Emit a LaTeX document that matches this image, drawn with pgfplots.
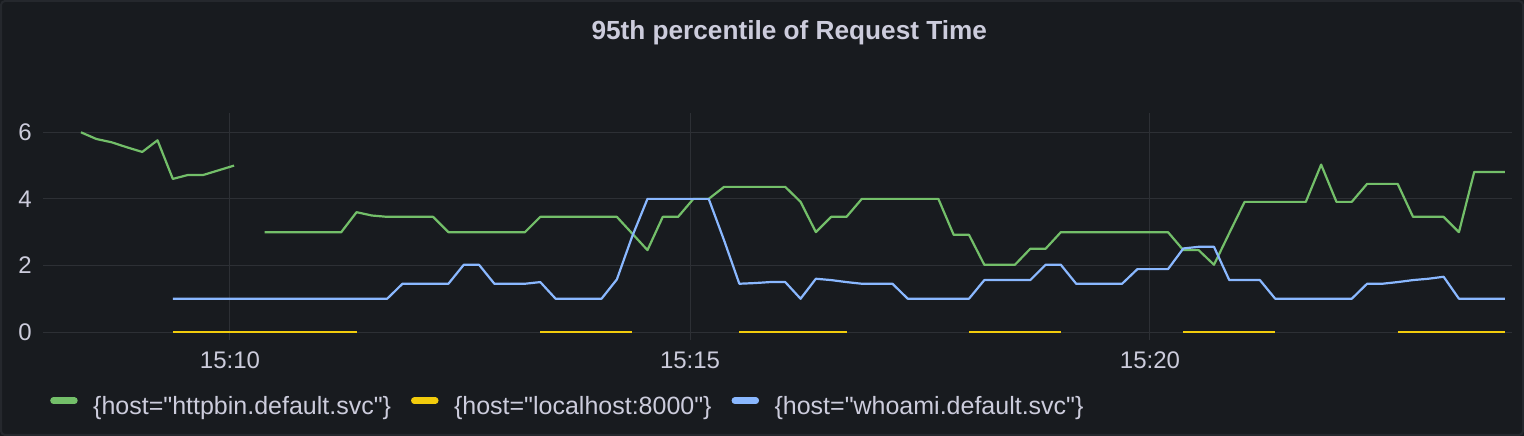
\documentclass[border=0pt]{standalone}
\usepackage{fontspec}
\setmainfont{Liberation Sans}
\usepackage{pgfplots}
\usepackage{pgfplotstable}
\pgfplotsset{compat=1.18}
\definecolor{bg}{HTML}{181B1F}
\definecolor{panelborder}{HTML}{25282D}
\definecolor{txt}{HTML}{CCCCDC}
\definecolor{gridc}{HTML}{2D3035}
\definecolor{sgreen}{HTML}{73BF69}
\definecolor{syellow}{HTML}{F2CC0C}
\definecolor{sblue}{HTML}{8AB8FF}
\newcommand{\dq}{\textquotedbl}

\pgfplotstableread{
i g y b
0 6.00 nan nan
1 5.80 nan nan
2 5.70 nan nan
3 5.55 nan nan
4 5.41 nan nan
5 5.76 nan nan
6 4.60 0 1.00
7 4.72 0 1.00
8 4.72 0 1.00
9 4.86 0 1.00
10 5.00 0 1.00
11 nan 0 1.00
12 3.00 0 1.00
13 3.00 0 1.00
14 3.00 0 1.00
15 3.00 0 1.00
16 3.00 0 1.00
17 3.00 0 1.00
18 3.60 0 1.00
19 3.50 nan 1.00
20 3.46 nan 1.00
21 3.46 nan 1.45
22 3.46 nan 1.45
23 3.46 nan 1.45
24 3.00 nan 1.45
25 3.00 nan 2.02
26 3.00 nan 2.02
27 3.00 nan 1.45
28 3.00 nan 1.45
29 3.00 nan 1.45
30 3.46 0 1.50
31 3.46 0 1.00
32 3.46 0 1.00
33 3.46 0 1.00
34 3.46 0 1.00
35 3.46 0 1.58
36 2.96 0 2.87
37 2.46 nan 4.00
38 3.46 nan 4.00
39 3.46 nan 4.00
40 4.00 nan 4.00
41 4.00 nan 4.00
42 4.36 nan 2.76
43 4.36 0 1.45
44 4.36 0 1.47
45 4.36 0 1.50
46 4.36 0 1.50
47 3.91 0 1.00
48 3.00 0 1.60
49 3.46 0 1.56
50 3.46 0 1.50
51 4.00 nan 1.45
52 4.00 nan 1.45
53 4.00 nan 1.45
54 4.00 nan 1.00
55 4.00 nan 1.00
56 4.00 nan 1.00
57 2.92 nan 1.00
58 2.92 0 1.00
59 2.02 0 1.56
60 2.02 0 1.56
61 2.02 0 1.56
62 2.50 0 1.56
63 2.50 0 2.02
64 3.00 0 2.02
65 3.00 nan 1.45
66 3.00 nan 1.45
67 3.00 nan 1.45
68 3.00 nan 1.45
69 3.00 nan 1.89
70 3.00 nan 1.89
71 3.00 nan 1.89
72 2.46 0 2.51
73 2.46 0 2.56
74 2.02 0 2.56
75 2.97 0 1.56
76 3.91 0 1.56
77 3.91 0 1.56
78 3.91 0 1.00
79 3.91 nan 1.00
80 3.91 nan 1.00
81 5.03 nan 1.00
82 3.91 nan 1.00
83 3.91 nan 1.00
84 4.45 nan 1.45
85 4.45 nan 1.45
86 4.45 0 1.50
87 3.46 0 1.56
88 3.46 0 1.60
89 3.46 0 1.66
90 3.00 0 1.00
91 4.81 0 1.00
92 4.81 0 1.00
93 4.81 0 1.00
}\datatable

\begin{document}
\begin{tikzpicture}[x=1pt,y=1pt]
\fill[bg] (0,0) rectangle (1524,436);
\draw[panelborder, line width=2pt, rounded corners=4pt] (1,1) rectangle (1523,435);
\path[use as bounding box] (0,0) rectangle (1524,436);
\begin{axis}[
  at={(43pt,96pt)}, anchor=south west,
  scale only axis, width=1469pt, height=227pt,
  xmin=-2.48, xmax=93.47, ymin=-0.24, ymax=6.58,
  xtick={9.73,39.78,69.82}, xticklabels={15:10,15:15,15:20},
  ytick={0,2,4,6},
  grid=major, major grid style={gridc, line width=1pt},
  axis line style={draw=none}, tick style={draw=none}, major tick length=0pt,
  tick label style={text=txt, font=\fontsize{24}{28}\selectfont},
  /pgf/number format/assume math mode=true,
  yticklabel style={anchor=east, inner sep=0pt, xshift=-11pt},
  xticklabel style={anchor=base, inner sep=0pt, yshift=-29pt},
  title={95th percentile of Request Time},
  title style={at={(0.508,1.2952)}, anchor=base, inner sep=0pt, text=txt, font=\fontsize{26.2}{30}\selectfont\bfseries},
  unbounded coords=jump,
  legend columns=3,
  legend cell align=left,
  legend style={at={(0.00477,-0.293)}, anchor=west, draw=none, fill=none, inner sep=0pt, text=txt,
    font=\fontsize{25}{30}\selectfont, nodes={inner sep=0pt},
    /tikz/every odd column/.append style={column sep=15.5pt},
    /tikz/every even column/.append style={column sep=20pt}},
  legend image code/.code={\path[draw=none, fill=none] (0pt,-3pt) rectangle (27pt,3pt);
    \draw[#1, line width=6.5pt, line cap=round] (3pt,5.8pt) -- (24pt,5.8pt);},
]
\addplot[sgreen, line width=2.2pt, line join=round] table[x=i, y=g] {\datatable};
\addlegendentry{\{host=\dq httpbin.default.svc\dq\}}
\addplot[syellow, line width=2.4pt, line join=round] table[x=i, y=y] {\datatable};
\addlegendentry{\{host=\dq localhost:8000\dq\}}
\addplot[sblue, line width=2.2pt, line join=round] table[x=i, y=b] {\datatable};
\addlegendentry{\{host=\dq whoami.default.svc\dq\}}
\end{axis}
\end{tikzpicture}
\end{document}
